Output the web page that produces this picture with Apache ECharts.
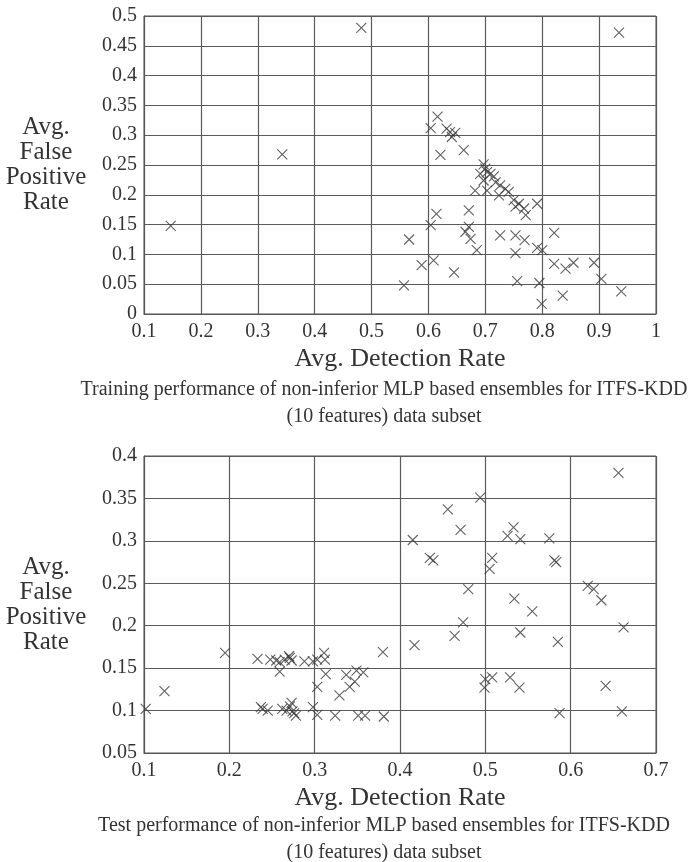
<!DOCTYPE html>
<html>
<head>
<meta charset="utf-8">
<script src="https://cdn.jsdelivr.net/npm/echarts@6/dist/echarts.min.js"></script>
<style>
  html, body { margin: 0; padding: 0; background: #fff; }
  #main { width: 689px; height: 862px; }
</style>
</head>
<body>
<div id="main"></div>
<script>
// 训练集：平均检测率 / 平均误报率
var trainDetection = [0.147, 0.343, 0.482, 0.935, 0.616, 0.604, 0.632, 0.638, 0.647, 0.641, 0.662, 0.621,
    0.697, 0.700, 0.703, 0.709, 0.715, 0.691, 0.697, 0.718, 0.726, 0.735, 0.741, 0.724, 0.682, 0.703,
    0.750, 0.759, 0.753, 0.768, 0.771, 0.791, 0.614, 0.671, 0.604, 0.671, 0.665, 0.674, 0.685, 0.566,
    0.726, 0.753, 0.769, 0.821, 0.753, 0.791, 0.800, 0.588, 0.609, 0.645, 0.821, 0.841, 0.855, 0.891,
    0.904, 0.557, 0.756, 0.795, 0.799, 0.836, 0.939];
var trainFalsePositive = [0.148, 0.268, 0.480, 0.472, 0.331, 0.312, 0.311, 0.305, 0.304, 0.297, 0.275, 0.267,
    0.251, 0.244, 0.238, 0.235, 0.231, 0.235, 0.224, 0.221, 0.216, 0.210, 0.205, 0.199, 0.207, 0.207,
    0.191, 0.185, 0.180, 0.177, 0.166, 0.185, 0.168, 0.174, 0.149, 0.146, 0.138, 0.126, 0.107, 0.125,
    0.132, 0.132, 0.124, 0.136, 0.102, 0.111, 0.107, 0.082, 0.090, 0.070, 0.084, 0.076, 0.086, 0.086,
    0.059, 0.048, 0.055, 0.052, 0.017, 0.031, 0.038];

// 测试集
var testDetection = [0.102, 0.124, 0.195, 0.233, 0.248, 0.255, 0.259, 0.259, 0.265, 0.271, 0.273, 0.270,
    0.288, 0.298, 0.303, 0.311, 0.312, 0.313, 0.303, 0.329, 0.337, 0.341, 0.347, 0.349, 0.357, 0.380,
    0.237, 0.239, 0.245, 0.262, 0.271, 0.273, 0.274, 0.276, 0.278, 0.267, 0.298, 0.303, 0.324, 0.351,
    0.359, 0.381, 0.656, 0.494, 0.456, 0.471, 0.415, 0.533, 0.526, 0.541, 0.575, 0.435, 0.439, 0.508,
    0.505, 0.581, 0.583, 0.480, 0.620, 0.627, 0.636, 0.534, 0.555, 0.474, 0.464, 0.541, 0.662, 0.417,
    0.585, 0.500, 0.508, 0.499, 0.529, 0.540, 0.641, 0.587, 0.660];
var testFalsePositive = [0.102, 0.123, 0.168, 0.161, 0.160, 0.159, 0.157, 0.146, 0.160, 0.162, 0.159, 0.164,
    0.158, 0.158, 0.160, 0.168, 0.160, 0.143, 0.128, 0.118, 0.142, 0.128, 0.134, 0.147, 0.145, 0.169,
    0.104, 0.102, 0.100, 0.102, 0.105, 0.109, 0.099, 0.097, 0.094, 0.100, 0.104, 0.095, 0.094, 0.094,
    0.094, 0.093, 0.380, 0.351, 0.337, 0.313, 0.301, 0.316, 0.306, 0.302, 0.303, 0.280, 0.277, 0.280,
    0.267, 0.277, 0.275, 0.243, 0.247, 0.243, 0.230, 0.232, 0.217, 0.204, 0.188, 0.192, 0.198, 0.177,
    0.181, 0.137, 0.139, 0.127, 0.139, 0.127, 0.129, 0.097, 0.099];

// 刻度
var trainXTicks = ['0.1', '0.2', '0.3', '0.4', '0.5', '0.6', '0.7', '0.8', '0.9', '1'];
var trainYTicks = ['0', '0.05', '0.1', '0.15', '0.2', '0.25', '0.3', '0.35', '0.4', '0.45', '0.5'];
var testXTicks = ['0.1', '0.2', '0.3', '0.4', '0.5', '0.6', '0.7'];
var testYTicks = ['0.05', '0.1', '0.15', '0.2', '0.25', '0.3', '0.35', '0.4'];

var xName = 'Avg. Detection Rate';
var yName = 'Avg.\nFalse\nPositive\nRate';
var captions = [
    'Training performance of non-inferior MLP based ensembles for ITFS-KDD\n(10 features) data subset',
    'Test performance of non-inferior MLP based ensembles for ITFS-KDD\n(10 features) data subset'
];

var FONT = 'Liberation Serif';
var INK = '#333';

function pairs(xs, ys) {
    return xs.map(function (x, i) { return [x, ys[i]]; });
}

function fmt(v) {
    return String(+v.toFixed(2));
}

function valueAxis(ticks, gridIndex, isX) {
    var axis = {
        type: 'value',
        gridIndex: gridIndex,
        min: +ticks[0],
        max: +ticks[ticks.length - 1],
        interval: +(ticks[1] - ticks[0]).toFixed(2),
        axisLine: { show: true, lineStyle: { color: '#555', width: 1 } },
        axisTick: { show: false },
        splitLine: { show: true, lineStyle: { color: '#5a5a5a', width: 1.2 } },
        axisLabel: {
            formatter: fmt,
            fontFamily: FONT,
            fontSize: 20,
            color: INK,
            margin: isX ? 8 : 7
        },
        nameLocation: 'middle',
        nameTextStyle: { fontFamily: FONT, color: INK }
    };
    if (isX) {
        axis.name = xName;
        axis.nameGap = 45;
        axis.nameTextStyle.fontSize = 26;
        axis.nameTextStyle.verticalAlign = 'middle';
    } else {
        axis.name = yName;
        axis.nameRotate = 0;
        axis.nameGap = 98;
        axis.nameTextStyle.fontSize = 25;
        axis.nameTextStyle.lineHeight = 25;
        axis.nameTextStyle.align = 'center';
        axis.nameTextStyle.verticalAlign = 'middle';
    }
    return axis;
}

var crossSymbol = 'path://M0,0L10,10M10,0L0,10';

function scatter(data, idx) {
    return {
        type: 'scatter',
        xAxisIndex: idx,
        yAxisIndex: idx,
        data: data,
        symbol: crossSymbol,
        symbolSize: 10,
        itemStyle: { color: 'transparent', borderColor: '#3a3a3a', borderWidth: 1.1 },
        silent: true,
        animation: false
    };
}

var captionStyle = { fontFamily: FONT, fontSize: 20, fontWeight: 'normal', color: INK, lineHeight: 27 };

var chart = echarts.init(document.getElementById('main'));
var option = {
    backgroundColor: '#fff',
    animation: false,
    title: [
        { text: captions[0], left: 384, top: 376, padding: 0, textAlign: 'center', textStyle: captionStyle },
        { text: captions[1], left: 384, top: 812, padding: 0, textAlign: 'center', textStyle: captionStyle }
    ],
    grid: [
        { left: 144, top: 16, width: 512, height: 298, show: true, borderColor: '#555', borderWidth: 1 },
        { left: 144, top: 456, width: 512, height: 297, show: true, borderColor: '#555', borderWidth: 1 }
    ],
    xAxis: [
        valueAxis(trainXTicks, 0, true),
        valueAxis(testXTicks, 1, true)
    ],
    yAxis: [
        valueAxis(trainYTicks, 0, false),
        valueAxis(testYTicks, 1, false)
    ],
    series: [
        scatter(pairs(trainDetection, trainFalsePositive), 0),
        scatter(pairs(testDetection, testFalsePositive), 1)
    ]
};
chart.setOption(option);
</script>
</body>
</html>
